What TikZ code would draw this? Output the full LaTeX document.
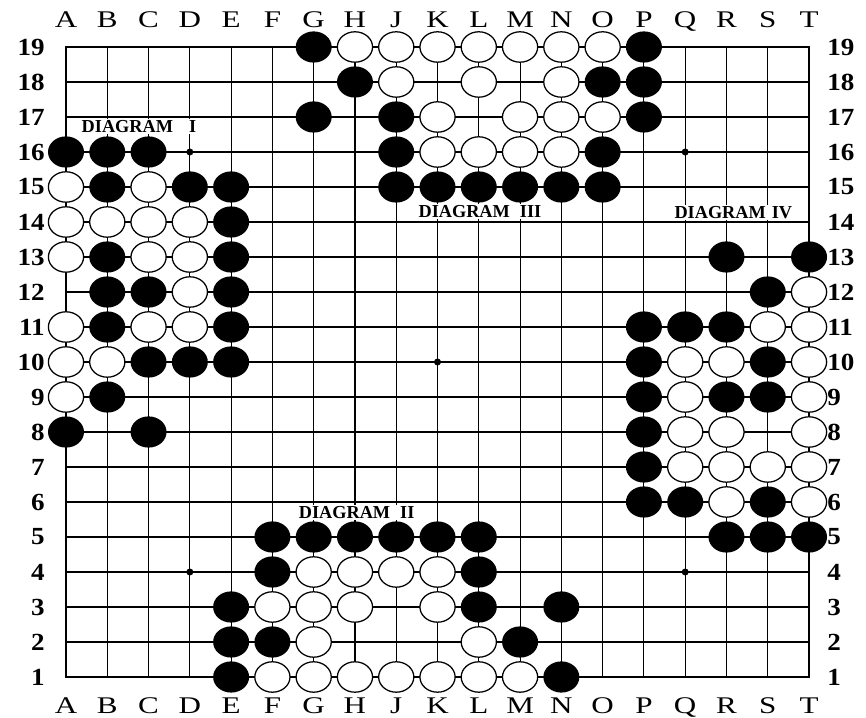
\documentclass[tikz,border=0pt]{standalone}
\usepackage{fontspec}
\setmainfont{Liberation Serif}
\newfontfamily\widefont[FakeStretch=1.3]{Liberation Serif}
\newfontfamily\numfont[FakeStretch=1.1]{Liberation Serif}
\usepackage{tikz}

\begin{document}
\begin{tikzpicture}[x=1.032cm,y=0.875cm,
    colname/.style={font=\widefont\fontsize{17}{17}\selectfont,inner sep=0pt,anchor=base},
    rowname/.style={font=\numfont\fontsize{17.5}{17.5}\selectfont\bfseries,inner sep=0pt},
    diagname/.style={font=\fontsize{13}{13}\selectfont\bfseries,fill=white,inner sep=1pt,anchor=west},
    blackstone/.style={fill=black},
    whitestone/.style={draw=black,line width=0.9pt,fill=white}]
  \useasboundingbox (-0.5988,-0.1429) rectangle (20.380,20.343);
  \fill[white] (-0.5988,-0.1429) rectangle (20.380,20.343);
  \foreach \i in {2,...,18} {
    \draw[line width=0.8pt] (\i,1) -- (\i,19);
    \draw[line width=0.8pt] (1,\i) -- (19,\i);
  }
  \draw[line width=1.6pt] (1,1) rectangle (19,19);
  \foreach \c/\r in {4/4,10/4,16/4,4/10,10/10,16/10,4/16,10/16,16/16}
    \fill (\c,\r) circle (2.5pt);
  \foreach \l [count=\c] in {A,B,C,D,E,F,G,H,J,K,L,M,N,O,P,Q,R,S,T} {
    \node[colname] (top\l) at (\c,19.543) {\l};
    \node[colname] (bot\l) at (\c,-0.029) {\l};
  }
  \foreach \r in {1,...,19} {
    \node[rowname,anchor=east] (left\r) at (0.491,\r) {\r};
    \node[rowname,anchor=west] (right\r) at (19.435,\r) {\r};
  }
  \foreach \c/\r in {7/19,15/19,8/18,14/18,15/18,7/17,9/17,15/17,9/16,14/16,
      9/15,10/15,11/15,12/15,13/15,14/15,
      1/16,2/16,3/16,2/15,4/15,5/15,5/14,2/13,5/13,2/12,3/12,5/12,2/11,5/11,
      3/10,4/10,5/10,2/9,1/8,3/8,
      17/13,19/13,18/12,15/11,16/11,17/11,15/10,18/10,15/9,17/9,18/9,15/8,15/7,
      15/6,16/6,18/6,17/5,18/5,19/5,
      6/5,7/5,8/5,9/5,10/5,11/5,6/4,11/4,5/3,11/3,13/3,5/2,6/2,12/2,5/1,13/1}
    \fill[blackstone] (\c,\r) ellipse [x radius=0.45cm,y radius=0.39cm];
  \foreach \c/\r in {8/19,9/19,10/19,11/19,12/19,13/19,14/19,9/18,11/18,13/18,
      10/17,12/17,13/17,14/17,10/16,11/16,12/16,13/16,
      1/15,3/15,1/14,2/14,3/14,4/14,1/13,3/13,4/13,4/12,1/11,3/11,4/11,1/10,2/10,1/9,
      19/12,18/11,19/11,16/10,17/10,19/10,16/9,19/9,16/8,17/8,19/8,16/7,17/7,18/7,19/7,
      17/6,19/6,
      7/4,8/4,9/4,10/4,6/3,7/3,8/3,10/3,7/2,11/2,6/1,7/1,8/1,9/1,10/1,11/1,12/1}
    \draw[whitestone] (\c,\r) ellipse [x radius=0.44cm,y radius=0.38cm];
  \node[diagname] (diagI) at (1.34,16.74) {DIAGRAM\hspace{0.4cm}I};
  \node[diagname] (diagII) at (6.60,5.71) {DIAGRAM\hspace{0.25cm}II};
  \node[diagname] (diagIII) at (9.50,14.29) {DIAGRAM\hspace{0.25cm}III};
  \node[diagname] (diagIV) at (15.70,14.26) {DIAGRAM\hspace{0.15cm}IV};
\end{tikzpicture}
\end{document}
